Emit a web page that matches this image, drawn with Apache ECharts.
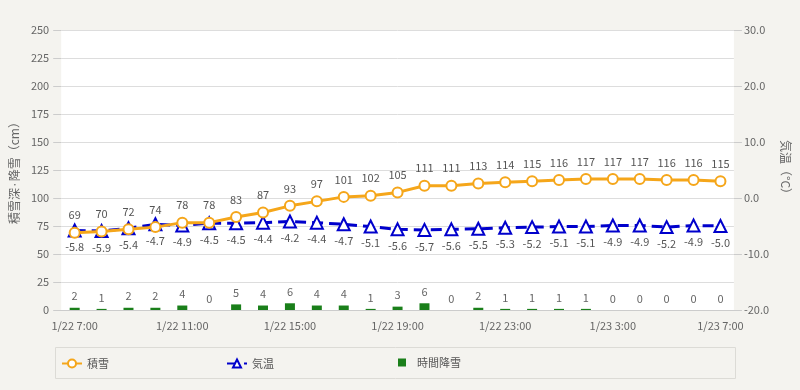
<!DOCTYPE html>
<html><head><meta charset="utf-8">
<script src="https://cdn.jsdelivr.net/npm/echarts@6/dist/echarts.min.js"></script>
<style>html,body{margin:0;padding:0;background:#f4f3ef;}#c{width:800px;height:390px;}</style>
</head><body><div id="c"></div>
<script>
const categories = ['1/22 7:00','1/22 8:00','1/22 9:00','1/22 10:00','1/22 11:00','1/22 12:00','1/22 13:00','1/22 14:00','1/22 15:00','1/22 16:00','1/22 17:00','1/22 18:00','1/22 19:00','1/22 20:00','1/22 21:00','1/22 22:00','1/22 23:00','1/23 0:00','1/23 1:00','1/23 2:00','1/23 3:00','1/23 4:00','1/23 5:00','1/23 6:00','1/23 7:00'];
const snowDepth = [69,70,72,74,78,78,83,87,93,97,101,102,105,111,111,113,114,115,116,117,117,117,116,116,115];
const temperature = [-5.8,-5.9,-5.4,-4.7,-4.9,-4.5,-4.5,-4.4,-4.2,-4.4,-4.7,-5.1,-5.6,-5.7,-5.6,-5.5,-5.3,-5.2,-5.1,-5.1,-4.9,-4.9,-5.2,-4.9,-5.0];
const hourlySnow = [2,1,2,2,4,0,5,4,6,4,4,1,3,6,0,2,1,1,1,1,0,0,0,0,0];
const seriesNames = ['積雪','気温','時間降雪'];
const leftAxisName = '積雪深·降雪（cm）';
const rightAxisName = '気温（°C）';

const font = '"Noto Sans CJK JP", "Noto Sans", sans-serif';
const orange = '#f5a61a', blue = '#0000cc', green = '#1a7f1a';
const chart = echarts.init(document.getElementById('c'), null, {renderer:'canvas'});
chart.setOption({
  backgroundColor: '#f4f3ef',
  textStyle: {fontFamily: font},
  animation: false,
  graphic: [{type:'rect', shape:{x:55.5,y:347.5,width:680,height:31}, style:{fill:'none', stroke:'#dcdbd6', lineWidth:1}, z:-1}],
  legend: [{
    left: 56, top: 353, itemGap: 117, itemWidth: 20, itemHeight: 10,
    textStyle: {color:'#555', fontSize: 11, fontFamily: font},
    data: [seriesNames[0], seriesNames[1]]
  },{
    left: 393, top: 352, itemWidth: 8, itemHeight: 8, itemGap: 10,
    textStyle: {color:'#555', fontSize: 11, fontFamily: font, padding:[0,0,0,6]},
    data: [{name: seriesNames[2], icon:'rect'}]
  }],
  grid: {left:58, right:65, top:30, bottom:80, show:true, backgroundColor:'#fff', borderWidth:0},
  xAxis: {
    type:'category', data: categories, boundaryGap: true,
    axisLine:{show:true, lineStyle:{color:'#ccc'}},
    axisTick:{show:false},
    axisLabel:{interval:3, color:'#666', fontSize:11, margin:10, fontFamily: font}
  },
  yAxis: [
    {type:'value', min:0, max:250, interval:25, name:leftAxisName, nameLocation:'middle', nameRotate:90, nameGap:34,
     nameTextStyle:{color:'#666', fontSize:12, fontFamily: font},
     axisLine:{show:false}, axisTick:{show:true, length:8, lineStyle:{color:'#ccc'}},
     axisLabel:{color:'#666', fontSize:11, margin:12}, splitLine:{lineStyle:{color:'#ddd'}}},
    {type:'value', min:-20, max:30, interval:10, name:rightAxisName, nameLocation:'middle', nameRotate:-90, nameGap:40,
     nameTextStyle:{color:'#666', fontSize:12, fontFamily: font},
     axisLine:{show:false}, axisTick:{show:true, length:8, lineStyle:{color:'#ccc'}},
     axisLabel:{color:'#666', fontSize:11, margin:10, formatter: v => v.toFixed(1)}, splitLine:{show:false}}
  ],
  series: [
    {name:seriesNames[0], type:'line', yAxisIndex:0, data:snowDepth, symbol:'circle', symbolSize:10, z:4,
     itemStyle:{color:'#ffffff', borderColor:orange, borderWidth:2},
     lineStyle:{color:orange, width:3},
     emphasis:{disabled:true},
     label:{show:true, position:'top', distance:6, color:'#555', fontSize:11}
    },
    {name:seriesNames[1], type:'line', yAxisIndex:1, data:temperature, symbol:'triangle', symbolSize:12, z:3,
     itemStyle:{color:'#ffffff', borderColor:blue, borderWidth:2},
     lineStyle:{color:blue, width:3, type:[11,6]},
     emphasis:{disabled:true},
     label:{show:true, position:'bottom', distance:4, color:'#555', fontSize:11, formatter: p => p.value.toFixed(1)}
    },
    {name:seriesNames[2], type:'bar', yAxisIndex:0, data:hourlySnow, barWidth:10, z:2,
     itemStyle:{color:green},
     emphasis:{disabled:true},
     label:{show:true, position:'top', distance:6, color:'#666', fontSize:11}
    }
  ]
});
</script></body></html>
